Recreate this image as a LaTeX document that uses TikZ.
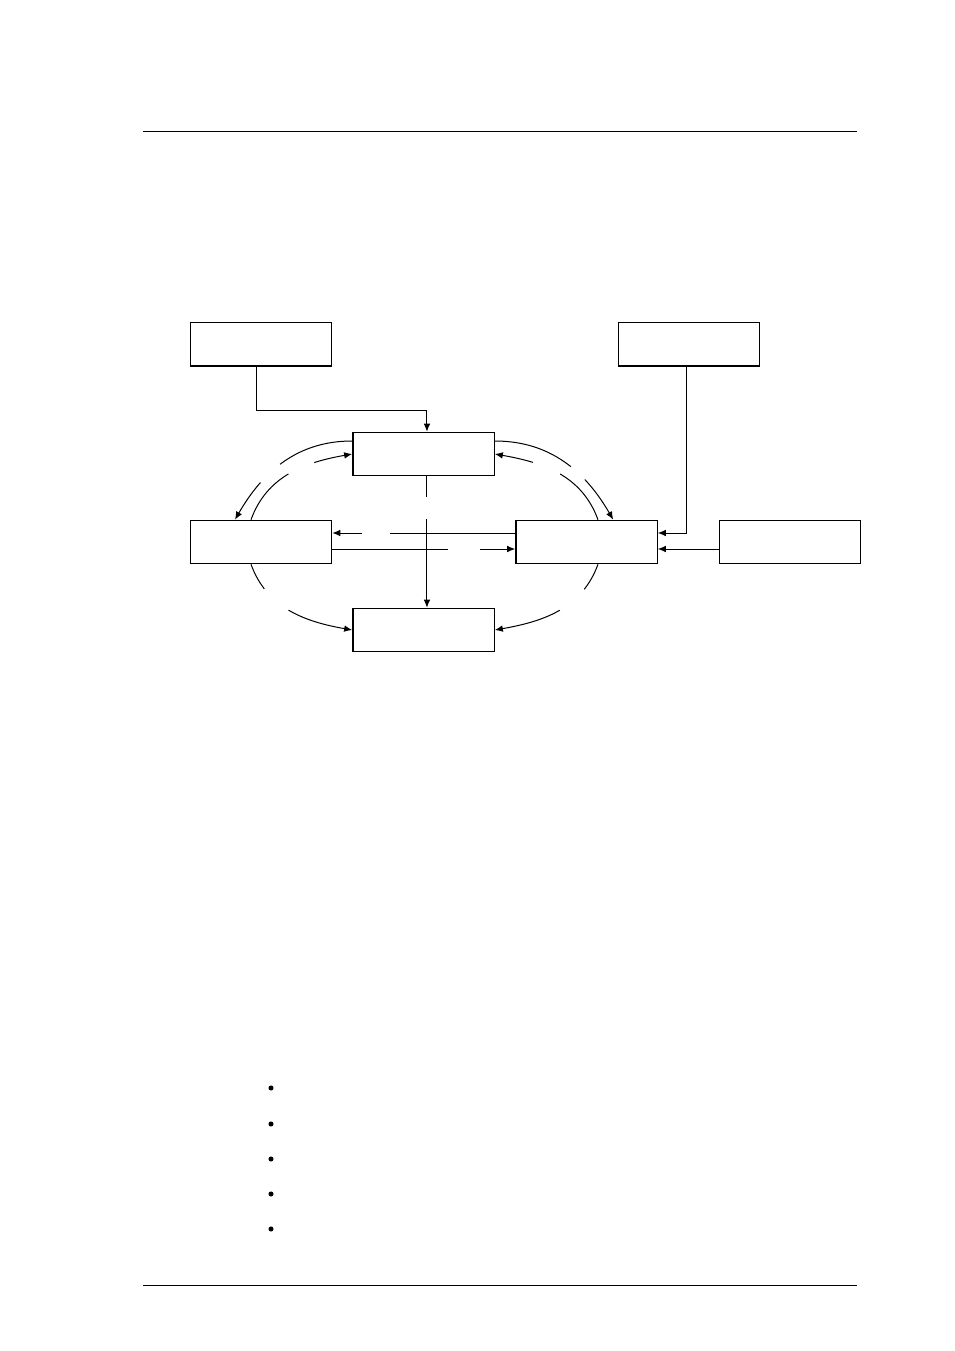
\documentclass[tikz,border=0pt]{standalone}
\usepackage{xcolor}
\usepackage{tikz}
\usetikzlibrary{positioning}
\usetikzlibrary{arrows.meta}
\tikzset{flow/.style = {->,> = {Latex[length=6pt,width=5pt]}, line width=0.75pt}}
\tikzset{gap/.style = {fill=white, inner sep=0pt, minimum height=3.5pt, sloped}}

\begin{document}
\begin{tikzpicture}[x=0.75pt,y=-0.75pt,main node/.style={rectangle,draw,line width=1pt,inner sep=0pt,minimum width=106pt,minimum height=32.5pt}]
            \fill[white] (0,0) rectangle (954,1351);
            \useasboundingbox (0,0) rectangle (954,1351);

            % page rules
            \draw[line width=0.75pt] (143,132) -- (857,132);
            \draw[line width=0.75pt] (143,1285) -- (857,1285);

            \node[main node] (src1) at (261,344.5) {};
            \node[main node] (src2) at (689,344.5) {};
            \node[main node] (top) at (423.5,454) {};
            \node[main node] (left) at (261,542) {};
            \node[main node] (right) at (586.5,542) {};
            \node[main node] (ext) at (790,542) {};
            \node[main node] (bottom) at (423.5,630) {};

            \draw[flow] ([xshift=-3.75pt]src1.south) |- ++(0,44) -| ([xshift=2.6pt]top.north);
            \draw[flow] ([xshift=-2.25pt]src2.south) |- ([yshift=6.75pt]right.east);
            \draw[flow] ([yshift=-5.25pt]ext.west) -- ([yshift=-5.25pt]right.west -| right.east);

            \path[flow] ([xshift=2.6pt]top.south) edge node[gap,pos=0.24,minimum width=16pt] {} ([xshift=2.6pt]bottom.north);
            \path[flow] ([yshift=6.75pt]right.west) edge node[gap,pos=0.76,minimum width=21pt] {} ([yshift=6.75pt]left.east);
            \path[flow] ([yshift=-5.25pt]left.east) edge node[gap,pos=0.72,minimum width=24pt] {} ([yshift=-5.25pt]right.west);

            % curved links round the loop
            \path[flow] ([yshift=9.75pt]top.west) edge[out=180,in=60] node[gap,pos=0.62,minimum width=20pt] {} ([xshift=-19.5pt]left.north);
            \path[flow] ([xshift=-7.5pt]left.north) edge[out=70,in=190] node[gap,pos=0.6,minimum width=21pt] {} (top.west);
            \path[flow] ([yshift=9.75pt]top.east) edge[out=0,in=120] node[gap,pos=0.62,minimum width=14pt] {} ([xshift=20pt]right.north);
            \path[flow] ([xshift=8.6pt]right.north) edge[out=110,in=-10] node[gap,pos=0.6,minimum width=22pt] {} (top.east);
            \path[flow] ([xshift=-7.5pt]left.south) edge[out=-70,in=170] node[gap,pos=0.35,minimum width=24pt] {} (bottom.west);
            \path[flow] ([xshift=8.6pt]right.south) edge[out=-110,in=10] node[gap,pos=0.35,minimum width=24pt] {} (bottom.east);

            \foreach \y in {1088,1124,1159,1194,1229}
                \fill (271,\y) circle (1.9pt);

        \end{tikzpicture}
\end{document}
